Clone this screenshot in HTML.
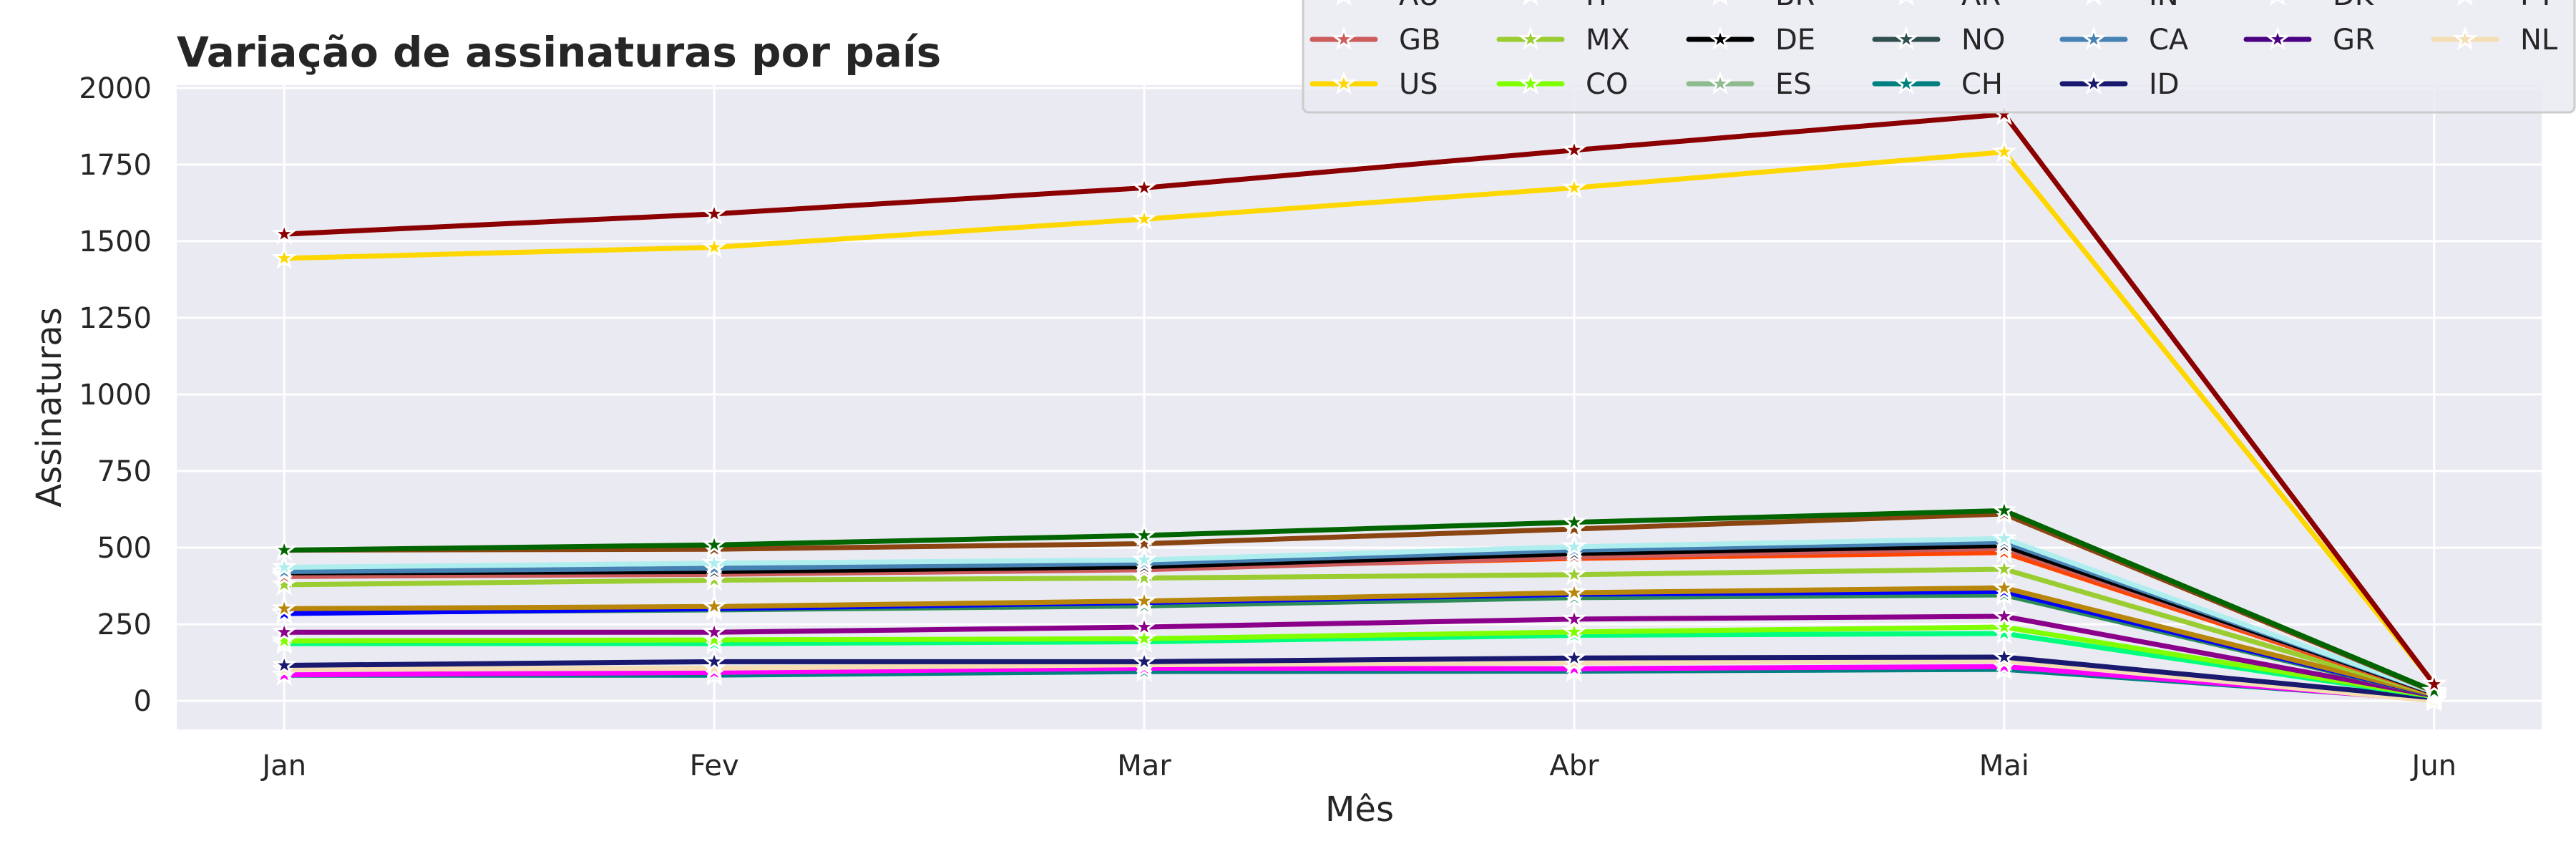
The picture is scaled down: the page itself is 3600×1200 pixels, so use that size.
<!DOCTYPE html>
<html><head><meta charset="utf-8"><style>
body{margin:0;background:#fff}
svg{display:block;font-family:"DejaVu Sans","Liberation Sans",sans-serif}
</style></head><body>
<svg id="chart" width="3600" height="1200" viewBox="0 0 3600 1200" xmlns="http://www.w3.org/2000/svg">
<rect x="247" y="119" width="3305" height="900" fill="#eaeaf2"/>
<g id="grid"></g><g id="series"></g><g id="axes"></g>
<text x="247" y="93" font-size="58" font-weight="bold" fill="#262626">Variação de assinaturas por país</text>
<text transform="translate(85,569) rotate(-90)" text-anchor="middle" font-size="48" fill="#262626">Assinaturas</text>
<text x="1900" y="1147" text-anchor="middle" font-size="48" fill="#262626">Mês</text>
<g id="legend"></g>
</svg>
<script>
const months = ["Jan","Fev","Mar","Abr","Mai","Jun"];
const yTicks = [0,250,500,750,1000,1250,1500,1750,2000];
const seriesNames = ["S-darkred","US","S-darkgreen","BR","IN","CA","DE","GB","AU","MX","S-goldenrod","S-blue","AR","S-darkmagenta","CO","S-springgreen","ID","NL","PT","CH"];
const seriesColors = ["#8b0000","#ffd700","#006400","#8b4513","#afeeee","#4682b4","#000000","#cd5c5c","#ff4500","#9acd32","#b8860b","#0000ff","#2e8b57","#8b008b","#7fff00","#00ff7f","#191970","#f5deb3","#ff00ff","#008080"];
const v0 = [1523,1444,492,492,436,422,418,406,410,379,301,285,288,224,196,187,116,103,85,84];
const v1 = [1589,1480,509,495,449,433,422,413,418,394,308,301,297,224,199,187,128,107,93,84];
const v2 = [1674,1572,540,513,460,449,438,428,433,401,326,321,310,241,203,193,128,118,107,96];
const v3 = [1797,1674,583,561,503,492,481,470,465,412,353,348,337,267,225,214,140,125,105,97];
const v4 = [1914,1791,621,610,530,519,507,498,484,430,369,357,346,276,241,220,143,131,112,103];
const v5 = [54,56,32,30,28,27,25,24,23,22,20,19,18,17,15,14,10,0,3,5];
const legendNames = ["AU","GB","US","IT","MX","CO","BR","DE","ES","AR","NO","CH","IN","CA","ID","DK","GR","PT","NL"];
const legendColors = ["#ff4500","#cd5c5c","#ffd700","#fafad2","#9acd32","#7fff00","#a0522d","#000000","#8fbc8f","#2e8b57","#2f4f4f","#008080","#e0ffff","#4682b4","#191970","#8a2be2","#4b0082","#ff00ff","#f5deb3"];
const NS="http://www.w3.org/2000/svg";
const X0=247,X1=3552,Y0=119,Y1=1019,YMIN=-93,YMAX=2009;
function xs(i){return X0+(i+0.25)/(months.length-1+0.5)*(X1-X0);}
function ys(v){return Y1-(v-YMIN)/(YMAX-YMIN)*(Y1-Y0);}
function mk(t,a,p){const e=document.createElementNS(NS,t);for(const k in a)e.setAttribute(k,a[k]);(p||document.getElementById('chart')).appendChild(e);return e;}
function star(cx,cy,r){let p=[];for(let k=0;k<10;k++){const rr=k%2?r*0.4:r;const a=-Math.PI/2+k*Math.PI/5;p.push((cx+rr*Math.cos(a)).toFixed(1)+","+(cy+rr*Math.sin(a)).toFixed(1));}return p.join(" ");}
const grid=document.getElementById('grid'),axes=document.getElementById('axes');
yTicks.forEach(t=>{
 const l=mk('line',{x1:X0,x2:X1,y1:ys(t),y2:ys(t),stroke:'#fff','stroke-width':3},grid);
 
 
 const tx=mk('text',{x:212,y:ys(t)+14,'text-anchor':'end','font-size':40,fill:'#262626'},axes);
 tx.textContent=t;
 
 
});
months.forEach((m,i)=>{
 const l=mk('line',{x1:xs(i),x2:xs(i),y1:Y0,y2:Y1,stroke:'#fff','stroke-width':3},grid);
 
 
 const tx=mk('text',{x:xs(i),y:1083,'text-anchor':'middle','font-size':40,fill:'#262626'},axes);
 tx.textContent=m;
 
 
});
const sg=document.getElementById('series');
const cols=[v0,v1,v2,v3,v4,v5];
for(let s=seriesNames.length-1;s>=0;s--){
 const vals=cols.map(c=>c[s]);
 const pts=vals.map((v,i)=>xs(i)+","+ys(v)).join(" ");
 const g=mk('g',{},sg);
 
 
 const pl=mk('polyline',{points:pts,fill:'none',stroke:seriesColors[s],'stroke-width':7,'stroke-linejoin':'round','stroke-linecap':'round'},g);
 
 
 vals.forEach((v,i)=>{
  const st=mk('polygon',{points:star(xs(i),ys(v),14),fill:seriesColors[s],stroke:'#fff','stroke-width':3},g);
  
  
 });
}
const lg=document.getElementById('legend');
const lb=mk('rect',{x:1821,y:-40,width:1777,height:197,rx:8,fill:'#eaeaf2','fill-opacity':0.85,stroke:'#cccccc','stroke-width':3},lg);


const colX=[1834,2095,2360,2620,2882,3139,3401];
const rowsPer=[3,3,3,3,3,2,2];
let idx=0;
colX.forEach((cx,c)=>{
 for(let r=0;r<rowsPer[c];r++){
  const cy=-7+r*62;
  const e=mk('g',{},lg);
  
  
  mk('line',{x1:cx,x2:cx+88,y1:cy,y2:cy,stroke:legendColors[idx],'stroke-width':7,'stroke-linecap':'round'},e);
  mk('polygon',{points:star(cx+44,cy,14),fill:legendColors[idx],stroke:'#fff','stroke-width':3},e);
  const t=mk('text',{x:cx+121,y:cy+14,'font-size':40,fill:'#262626'},e);
  t.textContent=legendNames[idx];
  idx++;
 }
});
</script>
</body></html>
